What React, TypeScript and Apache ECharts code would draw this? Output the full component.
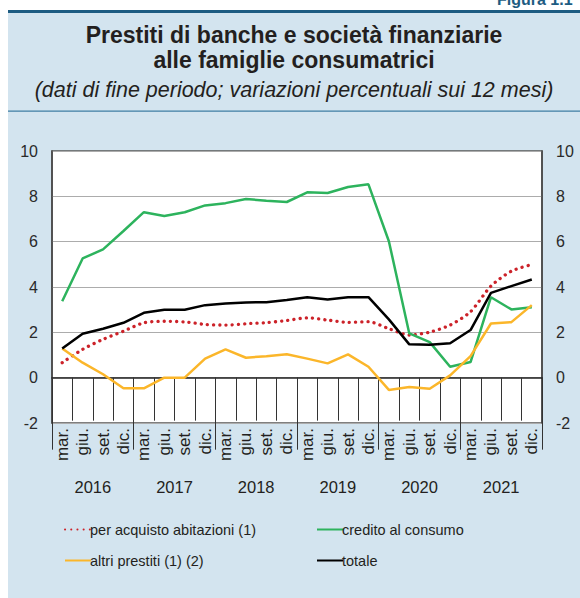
import React, { useEffect, useRef } from "react";
import * as echarts from "echarts";

const months = ["mar.", "giu.", "set.", "dic."];
const years = ["2016", "2017", "2018", "2019", "2020", "2021"];
const quarterLabels = years.flatMap(() => months);

const abitazioni = [0.66, 1.25, 1.69, 2.05, 2.42, 2.49, 2.46, 2.35, 2.32, 2.38, 2.43, 2.52, 2.64, 2.54, 2.44, 2.47, 2.16, 1.88, 2.01, 2.32, 2.91, 4.04, 4.7, 4.99];
const credito = [3.37, 5.26, 5.66, 6.47, 7.3, 7.13, 7.3, 7.6, 7.7, 7.88, 7.81, 7.75, 8.18, 8.15, 8.41, 8.53, 6.02, 1.95, 1.57, 0.48, 0.69, 3.55, 3.01, 3.11];
const altri = [1.29, 0.66, 0.15, -0.47, -0.47, 0.0, 0.0, 0.84, 1.25, 0.88, 0.95, 1.03, 0.84, 0.63, 1.03, 0.48, -0.54, -0.41, -0.49, 0.1, 0.95, 2.39, 2.45, 3.2];
const totale = [1.29, 1.94, 2.16, 2.42, 2.86, 3.0, 3.0, 3.2, 3.27, 3.32, 3.33, 3.43, 3.55, 3.45, 3.55, 3.55, 2.57, 1.47, 1.45, 1.52, 2.1, 3.74, 4.04, 4.33];

const names = {
  abit: "per acquisto abitazioni (1)",
  cred: "credito al consumo",
  altri: "altri prestiti (1) (2)",
  tot: "totale",
};

const FONT = "'Liberation Sans', Arial, Helvetica, sans-serif";
const TEXT = "#231f20";

export default function App() {
  const ref = useRef<HTMLDivElement>(null);
  useEffect(() => {
    if (!ref.current) return;
    const chart = echarts.init(ref.current, null, { renderer: "svg" });
    const yAxisBase = {
      type: "value",
      min: -2,
      max: 10,
      interval: 2,
      axisLine: { show: true, lineStyle: { color: "#444", width: 1.5 } },
      axisTick: { show: false },
      axisLabel: { fontSize: 16, color: "#2a2a2a", margin: 14, fontFamily: FONT },
    };
    const legendBase = {
      top: 522,
      orient: "vertical",
      padding: 0,
      itemWidth: 26,
      itemHeight: 14,
      itemGap: 16,
      itemStyle: { opacity: 0 },
      textStyle: { fontSize: 14.5, color: TEXT, fontFamily: FONT, padding: [0, 0, 0, -6] },
    };
    chart.setOption({
      animation: false,
      backgroundColor: "#d3e4ef",
      textStyle: { fontFamily: FONT },
      title: {
        text: "Prestiti di banche e società finanziarie\nalle famiglie consumatrici",
        subtext: "(dati di fine periodo; variazioni percentuali sui 12 mesi)",
        left: 294,
        textAlign: "center",
        top: 22,
        padding: 0,
        itemGap: 7,
        textStyle: { fontSize: 23, fontWeight: "bold", color: TEXT, lineHeight: 25, fontFamily: FONT },
        subtextStyle: { fontSize: 21.5, fontStyle: "italic", color: TEXT, lineHeight: 22, fontFamily: FONT },
      },
      graphic: [
        { type: "rect", shape: { x: 0, y: 0, width: 580, height: 10 }, style: { fill: "#ffffff" }, silent: true },
        { type: "rect", shape: { x: 0, y: 0, width: 8, height: 598 }, style: { fill: "#ffffff" }, silent: true },
        { type: "rect", shape: { x: 8, y: 10, width: 572, height: 3 }, style: { fill: "#1d5c82" }, silent: true },
        { type: "rect", shape: { x: 8, y: 110.5, width: 572, height: 1.2 }, style: { fill: "#3f7ea3" }, silent: true },
        {
          type: "text",
          x: 497,
          y: 7,
          style: { text: "Figura 1.1", fontSize: 16, fontWeight: "bold", fill: "#1d5c82", fontFamily: FONT, textVerticalAlign: "bottom" },
          silent: true,
        },
      ],
      legend: [
        { ...legendBase, left: 64, data: [names.abit, names.altri] },
        { ...legendBase, left: 316, data: [names.cred, names.tot] },
      ],
      grid: {
        left: 52,
        right: 38,
        top: 151,
        bottom: 175,
        show: true,
        backgroundColor: "#ffffff",
        borderColor: "#555",
        borderWidth: 1.5,
      },
      xAxis: [
        {
          type: "category",
          data: quarterLabels,
          position: "bottom",
          boundaryGap: true,
          axisLine: { show: true, lineStyle: { color: "#222", width: 1.5 } },
          axisTick: { show: true, length: 43, interval: 0, lineStyle: { color: "#333", width: 1 } },
          axisLabel: { interval: 0, rotate: 90, fontSize: 17, margin: 5, color: TEXT, fontFamily: FONT },
          splitLine: { show: false },
        },
        {
          type: "category",
          data: years,
          position: "bottom",
          boundaryGap: true,
          axisLine: { show: false },
          axisTick: { show: true, length: 72, interval: 0, lineStyle: { color: "#333", width: 1 } },
          axisLabel: { interval: 0, fontSize: 16.5, margin: 55, color: TEXT, fontFamily: FONT },
          splitLine: { show: false },
        },
      ],
      yAxis: [
        {
          ...yAxisBase,
          position: "left",
          splitLine: { show: true, lineStyle: { color: "#acacac", width: 1 } },
        },
        {
          ...yAxisBase,
          position: "right",
          splitLine: { show: false },
        },
      ],
      series: [
        {
          name: names.abit,
          type: "line",
          data: abitazioni,
          symbol: "none",
          smooth: 0.25,
          color: "#cc2229",
          lineStyle: { color: "#cc2229", width: 3.3, type: [0.1, 6.1], cap: "round" },
          z: 3,
        },
        {
          name: names.cred,
          type: "line",
          data: credito,
          symbol: "none",
          color: "#2db35d",
          lineStyle: { color: "#2db35d", width: 2.5 },
          z: 4,
        },
        {
          name: names.altri,
          type: "line",
          data: altri,
          symbol: "none",
          color: "#fbb62a",
          lineStyle: { color: "#fbb62a", width: 2.5 },
          z: 5,
        },
        {
          name: names.tot,
          type: "line",
          data: totale,
          symbol: "none",
          color: "#000000",
          lineStyle: { color: "#000000", width: 2.5 },
          z: 6,
        },
      ],
    });
    return () => chart.dispose();
  }, []);
  return (
    <div
      ref={ref}
      style={{ position: "fixed", left: 0, top: 0, width: 580, height: 598 }}
    />
  );
}
